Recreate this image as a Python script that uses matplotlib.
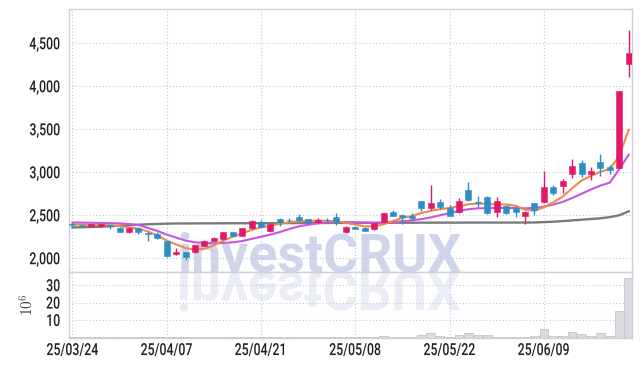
import matplotlib
matplotlib.use('Agg')
import matplotlib.pyplot as plt
from matplotlib import font_manager
from matplotlib.patheffects import AbstractPathEffect
from matplotlib.transforms import Affine2D
import numpy as np

# ---------------- data ----------------
opens = [2400, 2385, 2380, 2370, 2380, 2356, 2302, 2355, 2285, 2279,
         2201, 2047, 2075, 2075, 2147, 2205, 2221, 2306, 2263, 2356,
         2419, 2318, 2457, 2445, 2480, 2457, 2419, 2445, 2480, 2302,
         2368, 2356, 2337, 2420, 2538, 2503, 2496, 2663, 2589, 2655,
         2581, 2535, 2794, 2655, 2715, 2535, 2612, 2589, 2492, 2643,
         2651, 2826, 2844, 2977, 3104, 2980, 3116, 3058, 3054, 4256]
highs = [2410, 2400, 2400, 2400, 2390, 2360, 2360, 2360, 2302, 2305,
         2205, 2116, 2078, 2155, 2207, 2245, 2310, 2310, 2352, 2450,
         2445, 2400, 2465, 2465, 2512, 2462, 2470, 2470, 2523, 2370,
         2375, 2360, 2410, 2527, 2560, 2510, 2530, 2665, 2852, 2690,
         2620, 2700, 2891, 2720, 2720, 2710, 2615, 2610, 2545, 2645,
         3019, 2855, 2920, 3151, 3140, 3060, 3213, 3085, 3946, 4655]
lows = [2380, 2365, 2375, 2365, 2340, 2300, 2298, 2286, 2205, 2225,
        2015, 2040, 1975, 2065, 2140, 2200, 2210, 2258, 2255, 2340,
        2360, 2310, 2370, 2420, 2430, 2415, 2415, 2420, 2387, 2295,
        2335, 2315, 2325, 2415, 2490, 2399, 2450, 2545, 2560, 2575,
        2490, 2530, 2660, 2600, 2520, 2480, 2520, 2480, 2399, 2505,
        2645, 2740, 2760, 2930, 2940, 2910, 2961, 2985, 3054, 4105]
closes = [2392, 2378, 2395, 2395, 2372, 2305, 2355, 2310, 2278, 2235,
          2030, 2075, 2010, 2152, 2203, 2235, 2306, 2263, 2349, 2434,
          2367, 2395, 2426, 2440, 2445, 2419, 2445, 2440, 2426, 2360,
          2344, 2321, 2407, 2523, 2496, 2484, 2472, 2589, 2643, 2600,
          2496, 2663, 2678, 2648, 2523, 2666, 2523, 2535, 2535, 2562,
          2826, 2756, 2899, 3073, 2980, 3015, 3054, 3030, 3946, 4391]
volumes = [0.3, 0.2, 0.2, 0.2, 0.3, 0.3, 0.2, 0.2, 0.3, 0.3,
           0.5, 0.3, 0.4, 0.3, 0.3, 0.2, 0.3, 0.2, 0.3, 0.4,
           0.3, 0.2, 0.3, 0.2, 0.3, 0.2, 0.2, 0.2, 0.3, 0.4,
           0.3, 0.2, 0.3, 1.0, 0.5, 0.3, 0.4, 1.7, 2.4, 0.6,
           0.5, 1.7, 2.4, 1.2, 1.3, 0.5, 0.4, 0.3, 0.5, 0.8,
           4.7, 0.9, 1.0, 3.0, 2.1, 1.0, 2.4, 1.0, 15.3, 34.0]
ma_short = [2395, 2390, 2388, 2387, 2385, 2372, 2358, 2342, 2312, 2265,
            2205, 2160, 2118, 2100, 2110, 2150, 2205, 2250, 2290, 2330,
            2360, 2380, 2400, 2418, 2430, 2436, 2438, 2436, 2430, 2412,
            2392, 2370, 2372, 2395, 2435, 2468, 2492, 2525, 2552, 2570,
            2585, 2605, 2628, 2638, 2630, 2628, 2625, 2610, 2565, 2552,
            2593, 2651, 2717, 2814, 2905, 2957, 3005, 3040, 3190, 3495]
ma_mid = [2416, 2414, 2412, 2410, 2408, 2405, 2398, 2387, 2352, 2318,
          2275, 2240, 2205, 2185, 2178, 2175, 2178, 2185, 2200, 2225,
          2250, 2275, 2305, 2340, 2370, 2390, 2405, 2415, 2420, 2420,
          2418, 2415, 2412, 2412, 2420, 2430, 2440, 2455, 2475, 2500,
          2525, 2550, 2570, 2580, 2583, 2585, 2585, 2583, 2580, 2585,
          2600, 2625, 2655, 2700, 2750, 2800, 2845, 2880, 3035, 3205]
ma_long = [2358, 2360, 2363, 2367, 2372, 2378, 2384, 2390, 2395, 2399,
           2402, 2404, 2405, 2405, 2406, 2406, 2407, 2407, 2407, 2407,
           2408, 2408, 2408, 2409, 2409, 2410, 2410, 2410, 2411, 2411,
           2411, 2412, 2412, 2412, 2413, 2413, 2413, 2414, 2414, 2414,
           2414, 2414, 2415, 2415, 2415, 2415, 2415, 2415, 2415, 2416,
           2420, 2425, 2432, 2440, 2448, 2456, 2465, 2478, 2500, 2545]
tick_index = [0, 10, 20, 30, 40, 50]
tick_labels = ['25/03/24', '25/04/07', '25/04/21', '25/05/08', '25/05/22', '25/06/09']
price_ticks = [2000, 2500, 3000, 3500, 4000, 4500]
volume_ticks = [10, 20, 30]
volume_label = r'$10^6$'
watermark = 'investCRUX'

# ---------------- style ----------------
UP = '#e2186b'
DOWN = '#2b8fc6'
GRID = '#c4c6de'
SPINE = '#cfd0dc'

names = {f.name for f in font_manager.fontManager.ttflist}
tick_family = 'Roboto' if 'Roboto' in names else 'DejaVu Sans'
wm_family = 'Roboto' if 'Roboto' in names else 'DejaVu Sans'


class Reflect(AbstractPathEffect):
    """Draw the text mirrored vertically about its baseline."""
    def draw_path(self, renderer, gc, tpath, affine, rgbFace=None):
        renderer.draw_path(gc, tpath, Affine2D().scale(1, -1) + affine, rgbFace)


class Squeeze(AbstractPathEffect):
    """Draw the text horizontally condensed (narrow font look)."""
    def __init__(self, sx, anchor='center'):
        super().__init__()
        self.sx = sx
        self.anchor = anchor

    def draw_path(self, renderer, gc, tpath, affine, rgbFace=None):
        xs = tpath.vertices[:, 0]
        if len(xs) == 0:
            return
        x0 = xs.max() if self.anchor == 'right' else 0.5 * (xs.min() + xs.max())
        t = Affine2D().translate(-x0, 0).scale(self.sx, 1).translate(x0, 0)
        renderer.draw_path(gc, tpath, t + affine, rgbFace)


W, H = 642, 366
fig = plt.figure(figsize=(W / 100, H / 100), dpi=100)
left, right = 68.7 / W, 632 / W
ax = fig.add_axes([left, 1 - 272 / H, right - left, (272 - 9.3) / H])
axv = fig.add_axes([left, 1 - 337.5 / H, right - left, (337.5 - 272) / H], sharex=ax)

x = np.arange(len(closes))
o = np.array(opens, float)
c = np.array(closes, float)
hi = np.array(highs, float)
lo = np.array(lows, float)
colors = [UP if cc >= oo else DOWN for oo, cc in zip(o, c)]

ax.vlines(x, lo, hi, colors=colors, linewidth=1.0, zorder=3)
ax.bar(x, np.maximum(np.abs(c - o), 10), bottom=np.minimum(o, c), width=0.64,
       color=colors, edgecolor=colors, linewidth=0.4, zorder=4)

ax.plot(x, ma_long, color='#7a7a7a', linewidth=1.7, zorder=2.5)
ax.plot(x, ma_mid, color='#c954e3', linewidth=1.5, zorder=2.6)
ax.plot(x, ma_short, color='#f08a4b', linewidth=1.5, zorder=2.7)

axv.bar(x, volumes, width=0.92, color='#dadae0', edgecolor='#c4c4cc', linewidth=0.6, zorder=3)

# watermark + reflection
base_y = 1 - 272 / H
ax.text(0.497, base_y, watermark, transform=fig.transFigure, ha='center', va='baseline',
        fontsize=38.5, fontweight='bold', family=wm_family, color='#c8cee8', alpha=0.85, zorder=1)
axv.text(0.497, base_y, watermark, transform=fig.transFigure, ha='center', va='baseline',
         fontsize=38.5, fontweight='bold', family=wm_family, color='#c8cee8', alpha=0.38, zorder=1,
         path_effects=[Reflect()])

ax.set_xlim(-0.4, 59.35)
ax.set_ylim(1840, 4895)
axv.set_ylim(0, 37.5)

ax.set_yticks(price_ticks)
ax.set_yticklabels([f'{v:,}' for v in price_ticks])
axv.set_yticks(volume_ticks)
axv.set_yticklabels([str(v) for v in volume_ticks])
axv.set_xticks(tick_index)
axv.set_xticklabels(tick_labels)
ax.tick_params(axis='x', labelbottom=False)

for a in (ax, axv):
    a.grid(True, color=GRID, linestyle=(0, (1, 2)), linewidth=0.8)
    a.set_axisbelow(True)
    a.tick_params(length=0, pad=6, colors='#222222')
    for lab in a.get_yticklabels():
        lab.set_fontproperties(font_manager.FontProperties(family=tick_family, size=12, weight='medium'))
        lab.set_color('#222222')
        lab.set_path_effects([Squeeze(0.74, 'right')])
    for s in a.spines.values():
        s.set_color(SPINE)
        s.set_linewidth(1.0)

axv.tick_params(axis='x', pad=4)
for lab in axv.get_xticklabels():
    lab.set_fontproperties(font_manager.FontProperties(family=tick_family, size=12, weight='medium'))
    lab.set_color('#222222')
    lab.set_path_effects([Squeeze(0.74, 'center')])

axv.set_ylabel(volume_label, fontsize=11, color='#444444', math_fontfamily='cm')
axv.yaxis.set_label_coords(-0.057, 0.5)

fig.savefig('out.png', dpi=100)
